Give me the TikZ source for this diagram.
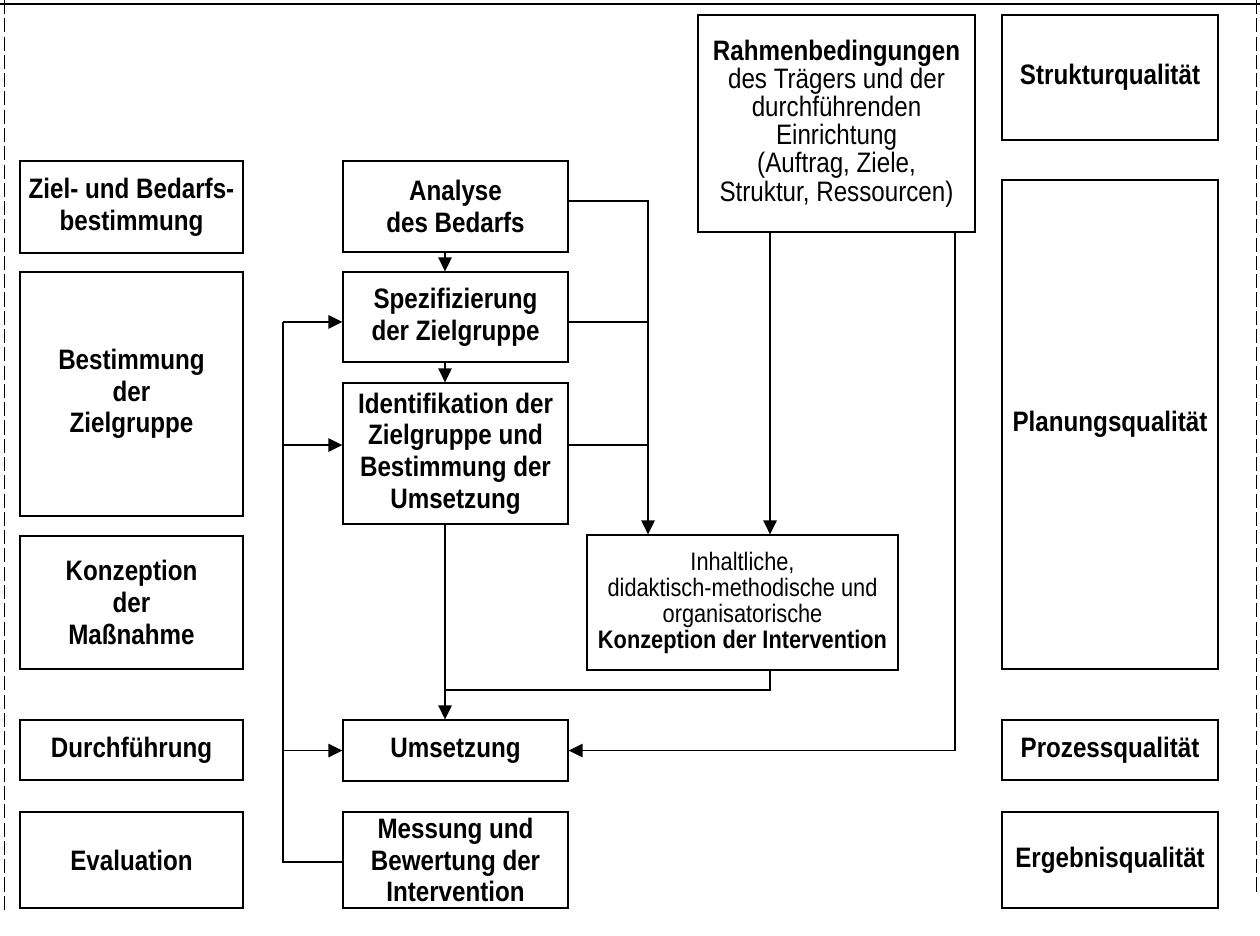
\documentclass[tikz,border=0pt]{standalone}
\usepackage{fontspec}
\setmainfont{Liberation Sans}[FakeStretch=0.86]
\usetikzlibrary{arrows.meta}
\newcommand{\boldtext}{\fontsize{20}{22.5}\selectfont\bfseries}
\newcommand{\rahmentext}{\fontsize{20}{20}\selectfont}
\newcommand{\inhalttext}{\fontsize{18}{18.5}\selectfont}

\begin{document}
\begin{tikzpicture}[x=0.025cm,y=-0.025cm,
  box/.style={draw, line width=0.9pt, align=center, inner sep=0pt, font=\boldtext},
  size/.style 2 args={minimum width=#1*0.025cm, minimum height=#2*0.025cm},
  wire/.style={line width=1.4pt},
  arr/.style={line width=1.4pt, -{Triangle[length=10pt,width=9.5pt]}}]
\useasboundingbox (0,0) rectangle (1260,935);

\draw[line width=1pt] (0,4) -- (1260,4);
\draw[line width=0.6pt, dash pattern=on 10pt off 3pt] (4,0) -- (4,912);
\draw[line width=0.6pt, dash pattern=on 10pt off 3pt] (1256,0) -- (1256,895);

\node[box, size={223}{92}] (ziel) at (131.5,207) {Ziel- und Bedarfs-\\bestimmung};
\node[box, size={223}{244}] (zgr) at (131.5,394) {Bestimmung\\der\\Zielgruppe};
\node[box, size={223}{133}] (konz) at (131.5,602.5) {Konzeption\\der\\Maßnahme};
\node[box, size={223}{60}] (durch) at (131.5,750) {Durchführung};
\node[box, size={223}{96}] (eval) at (131.5,860) {Evaluation};

\node[box, size={225}{91}] (analyse) at (455.5,206.5) {Analyse\\des Bedarfs};
\node[box, size={225}{90}] (spez) at (455.5,317) {Spezifizierung\\der Zielgruppe};
\node[box, size={225}{141}] (ident) at (455.5,453.5) {Identifikation der\\Zielgruppe und\\Bestimmung der\\Umsetzung};
\node[box, size={225}{61}] (umsetz) at (455.5,750.5) {Umsetzung};
\node[box, size={225}{96}] (messung) at (455.5,860) {Messung und\\Bewertung der\\Intervention};

\node[box, size={277}{217}, font=\rahmentext] (rahmen) at (836.5,123.5) {\textbf{Rahmenbedingungen}\\des Trägers und der\\durchführenden\\Einrichtung\\(Auftrag, Ziele,\\Struktur, Ressourcen)};
\node[box, size={311}{135}, font=\inhalttext] (inhalt) at (742.5,602.5) {Inhaltliche,\\didaktisch-methodische und\\organisatorische\\\textbf{Konzeption der Intervention}};

\node[box, size={216}{125}] (struktur) at (1110,77.5) {Strukturqualität};
\node[box, size={216}{489}] (planung) at (1110,424.5) {Planungsqualität};
\node[box, size={216}{60}] (prozess) at (1110,750) {Prozessqualität};
\node[box, size={216}{96}] (ergebnis) at (1110,860) {Ergebnisqualität};

\coordinate (bus) at (648,0);
\coordinate (rx) at (770,0);
\coordinate (ry) at (955,0);
\coordinate (mx) at (445,0);
\coordinate (fb) at (283,0);
\coordinate (merge) at (445,690);

\draw[arr] (analyse.south -| mx) -- (spez.north -| mx);
\draw[arr] (spez.south -| mx) -- (ident.north -| mx);
\draw[arr] ([yshift=4pt]analyse.east) -| (inhalt.north -| bus);
\draw[wire] ([yshift=-3.5pt]spez.east) -- ([yshift=-3.5pt]spez.east -| bus);
\draw[wire] ([yshift=6pt]ident.east) -- ([yshift=6pt]ident.east -| bus);
\draw[arr] (rahmen.south -| rx) -- (inhalt.north -| rx);
\draw[arr] (rahmen.south -| ry) |- (umsetz.east);
\draw[arr] (ident.south -| mx) -- (umsetz.north -| mx);
\draw[wire] (inhalt.south -| rx) |- (merge);
\draw[wire] ([yshift=-1.5pt]messung.west) -| ([yshift=-3.5pt]spez.west -| fb);
\draw[arr] ([yshift=-3.5pt]spez.west -| fb) -- ([yshift=-3.5pt]spez.west);
\draw[arr] ([yshift=6pt]ident.west -| fb) -- ([yshift=6pt]ident.west);
\draw[arr] (umsetz.west -| fb) -- (umsetz.west);

\end{tikzpicture}
\end{document}
